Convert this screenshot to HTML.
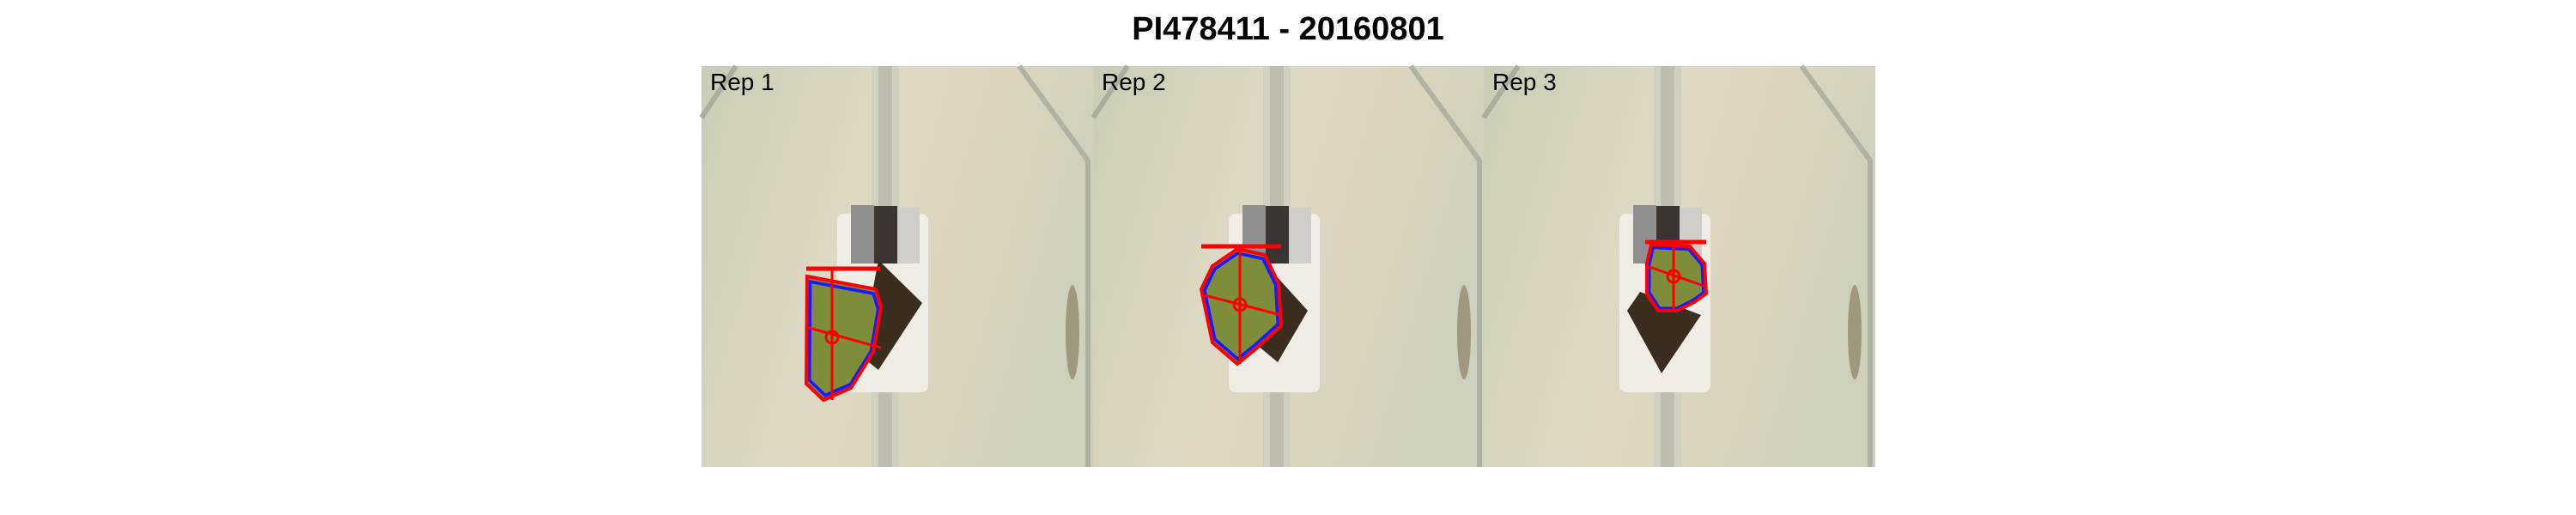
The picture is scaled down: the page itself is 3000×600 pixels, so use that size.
<!DOCTYPE html>
<html><head><meta charset="utf-8"><style>
body{margin:0;background:#fff;width:3000px;height:600px;overflow:hidden;font-family:"Liberation Sans",sans-serif}
#title{position:absolute;left:0;width:3000px;top:13px;text-align:center;font-weight:bold;font-size:38px;color:#000}
svg{position:absolute;left:0;top:0}
</style></head><body>
<div id="title">PI478411 - 20160801</div>
<svg width="3000" height="600">
<defs>
<linearGradient id="bg" x1="0" x2="1" y1="0" y2="0.3">
<stop offset="0" stop-color="#c9cdb6"/><stop offset="0.45" stop-color="#ded9c4"/><stop offset="0.7" stop-color="#ddd6bf"/><stop offset="1" stop-color="#cdd0bd"/>
</linearGradient>
</defs>
<g id="panels"></g>
</svg>
<script>
const panelLefts=[817,1273,1728];
const labels=["Rep 1","Rep 2","Rep 3"];
const hulls=[
[[123,245],[203,260],[209,280],[200,333],[174,375],[142,389],[122,370]],
[[168,213],[200,220],[216,253],[219,303],[190,329],[168,347],[139,322],[126,260],[139,233]],
[[195,208],[240,210],[257,230],[259,265],[245,275],[225,285],[203,285],[190,265],[190,230]]
];
const topLines=[[122,208,236],[126,219,210],[188,259,205]];
const centers=[[152,316],[171,278],[221,245]];
const pots=[
[[206,226],[257,276],[206,354],[185,337]],
[[200,230],[250,285],[215,345],[185,320]],
[[182,263],[253,290],[207,358],[167,285]]
];
const g=document.getElementById('panels');
const NS='http://www.w3.org/2000/svg';
function mk(t,a,p){const e=document.createElementNS(NS,t);for(const k in a)e.setAttribute(k,a[k]);p.appendChild(e);return e;}
panelLefts.forEach((L,i)=>{
 const p=mk('g',{transform:`translate(${L},77)`},g);
 
 
 mk('rect',{x:0,y:0,width:456,height:467,fill:'url(#bg)'},p);
 mk('polyline',{points:'0,60 40,0',fill:'none',stroke:'#a9ae9e','stroke-width':6},p);
 mk('polyline',{points:'370,0 450,110 450,467',fill:'none',stroke:'#b0b3a4','stroke-width':6},p);
 mk('rect',{x:198,y:0,width:32,height:467,fill:'#cfcfc2'},p);
 mk('rect',{x:206,y:0,width:16,height:467,fill:'#bdbdb0'},p);
 mk('rect',{x:158,y:172,width:106,height:208,rx:8,fill:'#f0ede6'},p);
 mk('rect',{x:174,y:162,width:27,height:68,fill:'#8e8f8e'},p);
 mk('rect',{x:201,y:163,width:27,height:67,fill:'#3a3533'},p);
 mk('rect',{x:228,y:165,width:26,height:65,fill:'#cfceca'},p);
 mk('polygon',{points:pots[i].map(q=>q.join(',')).join(' '),fill:'#3b2d20'},p);
 mk('ellipse',{cx:432,cy:310,rx:8,ry:55,fill:'#7a6a4e',opacity:0.55},p);
 const hp=hulls[i].map(q=>q.join(',')).join(' ');
 const cx=hulls[i].reduce((s,q)=>s+q[0],0)/hulls[i].length, cy=hulls[i].reduce((s,q)=>s+q[1],0)/hulls[i].length;
 mk('polygon',{points:hp,fill:'#7d8d3a'},p);
 mk('polygon',{points:hp,fill:'none',stroke:'#1a1aff','stroke-width':4,transform:`translate(${cx*0.08},${cy*0.08}) scale(0.92)`},p);
 const hull=mk('polygon',{points:hp,fill:'none',stroke:'#ff0000','stroke-width':4},p);
 
 
 const t=topLines[i];
 mk('line',{x1:t[0],x2:t[1],y1:t[2],y2:t[2],stroke:'#ff0000','stroke-width':5},p);
 const c=centers[i];
 const ys=hulls[i].map(q=>q[1]);
 mk('line',{x1:c[0],x2:c[0],y1:t[2],y2:Math.max(...ys),stroke:'#ff0000','stroke-width':3},p);
 const xs=hulls[i].map(q=>q[0]);
 mk('line',{x1:Math.min(...xs),x2:Math.max(...xs),y1:c[1]-12,y2:c[1]+12,stroke:'#ff0000','stroke-width':3},p);
 mk('circle',{cx:c[0],cy:c[1],r:7,fill:'none',stroke:'#ff0000','stroke-width':3},p);
 const tx=mk('text',{x:10,y:28,'font-size':28,fill:'#000','font-family':'Liberation Sans, sans-serif'},p);
 tx.textContent=labels[i];
 
 
});
</script>
</body></html>
